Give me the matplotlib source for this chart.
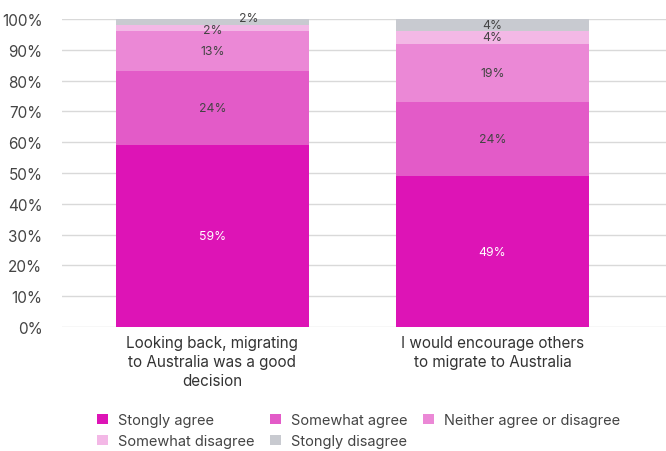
import numpy as np
import matplotlib.pyplot as plt
from matplotlib.ticker import PercentFormatter

plt.rcParams['font.family'] = ['Inter', 'DejaVu Sans']

categories = ["Looking back, migrating\nto Australia was a good\ndecision",
              "I would encourage others\nto migrate to Australia"]
series = ["Stongly agree", "Somewhat agree", "Neither agree or disagree",
          "Somewhat disagree", "Stongly disagree"]
strongly_agree = [59, 49]
somewhat_agree = [24, 24]
neither = [13, 19]
somewhat_disagree = [2, 4]
strongly_disagree = [2, 4]

values = [strongly_agree, somewhat_agree, neither, somewhat_disagree, strongly_disagree]
colors = ["#dd14b6", "#e35bc8", "#eb88d6", "#f3b8e6", "#c8cad0"]
text_colors = ["white", "#444444", "#444444", "#444444", "#444444"]

fig = plt.figure(figsize=(6.66, 4.52), dpi=100)
ax = fig.add_axes([0.093, 0.274, 0.907, 0.682])

x = np.arange(len(categories))
bottom = np.zeros(len(categories))
for i, (name, vals) in enumerate(zip(series, values)):
    vals = np.array(vals, dtype=float)
    ax.bar(x, vals, 0.69, bottom=bottom, color=colors[i], label=name, zorder=2)
    for j, v in enumerate(vals):
        dx, dy = 0, 0
        # the tiny top segment of the first bar gets its label nudged aside
        if i == 4 and v < 3:
            dx, dy = 0.13, 1.2
        elif i == 3 and v < 3:
            dy = -0.5
        ax.text(x[j] + dx, bottom[j] + v / 2 + dy, f"{int(v)}%", ha="center", va="center",
                fontsize=8.8, color=text_colors[i], zorder=3)
    bottom += vals

ax.set_xlim(-0.5375, 1.62)
ax.set_ylim(0, 100)
ax.set_yticks(np.arange(0, 101, 10))
ax.yaxis.set_major_formatter(PercentFormatter(decimals=0))
ax.set_xticks(x)
ax.set_xticklabels(categories, fontsize=11, color="#333333", linespacing=1.3)
ax.tick_params(axis="y", length=0, pad=14, labelsize=11, labelcolor="#444444")
ax.tick_params(axis="x", length=0, pad=6)
ax.grid(axis="y", color="#d9d9d9", linewidth=1, zorder=0)
for s in ax.spines.values():
    s.set_visible(False)

handles, labels = ax.get_legend_handles_labels()
order = [0, 3, 1, 4, 2]
fig.legend([handles[k] for k in order], [labels[k] for k in order],
           loc="lower left", bbox_to_anchor=(0.131, -0.016), ncol=3, frameon=False,
           fontsize=10.5, handlelength=0.7, handleheight=0.7, handletextpad=0.7,
           columnspacing=1.1, labelspacing=0.5, labelcolor="#444444",
           borderaxespad=0.3)

fig.savefig("out.png", dpi=100)
